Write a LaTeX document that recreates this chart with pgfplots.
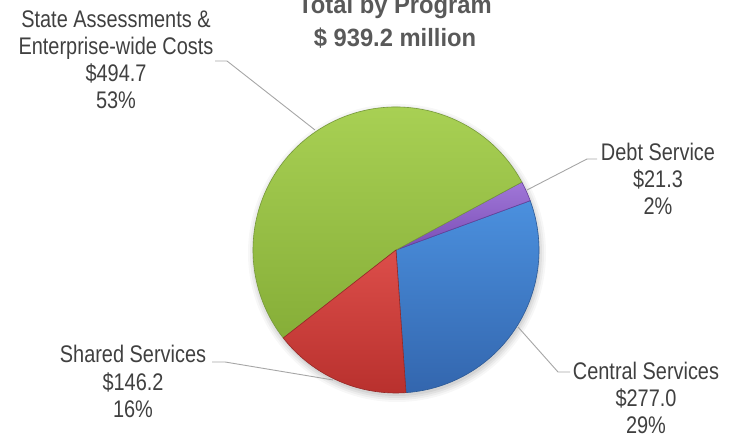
\documentclass[border=0pt]{standalone}
\usepackage{pgfplots}
\pgfplotsset{compat=1.18}
\usepackage{pgfplotstable}
\usepackage{fontspec}
\setmainfont{Liberation Sans}[FakeStretch=0.83]
\newfontfamily\titlefont{Liberation Sans}[FakeStretch=0.95]
\definecolor{txt}{HTML}{404040}
\definecolor{ttl}{HTML}{595959}
\definecolor{lead}{HTML}{A6A6A6}
\definecolor{gTop}{HTML}{ABD356}\definecolor{gBot}{HTML}{86AE38}\definecolor{gEdge}{HTML}{76993A}
\definecolor{bTop}{HTML}{4B90DE}\definecolor{bBot}{HTML}{3366AE}\definecolor{bEdge}{HTML}{2D5A96}
\definecolor{rTop}{HTML}{DC4E4A}\definecolor{rBot}{HTML}{B8302D}\definecolor{rEdge}{HTML}{962826}
\definecolor{pTop}{HTML}{A077D8}\definecolor{pBot}{HTML}{7A4DB5}\definecolor{pEdge}{HTML}{65409A}

\pgfplotstableread{
name value
Central 277.0
Debt 21.3
State 494.7
Shared 146.2
}\piedata

\begin{document}
\begin{tikzpicture}
\pgfplotstablegetelem{0}{value}\of\piedata \let\vA\pgfplotsretval
\pgfplotstablegetelem{1}{value}\of\piedata \let\vB\pgfplotsretval
\pgfplotstablegetelem{2}{value}\of\piedata \let\vC\pgfplotsretval
\pgfplotstablegetelem{3}{value}\of\piedata \let\vD\pgfplotsretval
\pgfmathsetmacro\tot{\vA+\vB+\vC+\vD}
\pgfmathsetmacro\aO{-86}
\pgfmathsetmacro\aA{\aO+360*(\vA/\tot)}
\pgfmathsetmacro\aB{\aA+360*(\vB/\tot)}
\pgfmathsetmacro\aC{\aB+360*(\vC/\tot)}
\pgfmathsetmacro\aD{\aC+360*(\vD/\tot)}
\def\R{143pt}
\begin{axis}[
  width=734pt, height=438pt, scale only axis,
  xmin=0, xmax=734, ymin=0, ymax=438,
  hide axis, clip=false,
]
% soft shadow
\fill[black, opacity=0.03] (axis cs:397,185) circle[radius=149pt];
\fill[black, opacity=0.04] (axis cs:397,185) circle[radius=147pt];
\fill[black, opacity=0.05] (axis cs:397,185) circle[radius=145pt];
\fill[black, opacity=0.06] (axis cs:397,185) circle[radius=143pt];
% slices
\path[draw=bEdge, line width=0.6pt, top color=bTop, bottom color=bBot]
  (axis cs:396,188) -- ++(\aO:\R) arc[start angle=\aO, end angle=\aA, radius=\R] -- cycle;
\path[draw=pEdge, line width=0.6pt, top color=pTop, bottom color=pBot]
  (axis cs:396,188) -- ++(\aA:\R) arc[start angle=\aA, end angle=\aB, radius=\R] -- cycle;
\path[draw=gEdge, line width=0.6pt, top color=gTop, bottom color=gBot]
  (axis cs:396,188) -- ++(\aB:\R) arc[start angle=\aB, end angle=\aC, radius=\R] -- cycle;
\path[draw=rEdge, line width=0.6pt, top color=rTop, bottom color=rBot]
  (axis cs:396,188) -- ++(\aC:\R) arc[start angle=\aC, end angle=\aD, radius=\R] -- cycle;
% leader lines
\draw[lead, line width=0.9pt] (axis cs:215,377) -- (axis cs:227,377) -- (axis cs:315,308);
\draw[lead, line width=0.9pt] (axis cs:597,279) -- (axis cs:587,279) -- (axis cs:527,248);
\draw[lead, line width=0.9pt] (axis cs:570,66) -- (axis cs:558,66) -- (axis cs:518,111);
\draw[lead, line width=0.9pt] (axis cs:212,76) -- (axis cs:225,76) -- (axis cs:333,58);
% labels
\tikzset{lab/.style={anchor=base, inner sep=0pt, text=txt, font=\fontsize{24}{28}\selectfont}}
\node[lab] at (axis cs:116,410) {State Assessments \&};
\node[lab] at (axis cs:116,383) {Enterprise-wide Costs};
\node[lab] at (axis cs:116,356) {\$494.7};
\node[lab] at (axis cs:116,329) {53\%};
\node[lab] at (axis cs:658,277) {Debt Service};
\node[lab] at (axis cs:658,250) {\$21.3};
\node[lab] at (axis cs:658,223) {2\%};
\node[lab] at (axis cs:646,58) {Central Services};
\node[lab] at (axis cs:646,31) {\$277.0};
\node[lab] at (axis cs:646,4) {29\%};
\node[lab] at (axis cs:133,75) {Shared Services};
\node[lab] at (axis cs:133,47) {\$146.2};
\node[lab] at (axis cs:133,20) {16\%};
% title
\tikzset{ttlst/.style={anchor=base, inner sep=0pt, text=ttl, font=\titlefont\bfseries\fontsize{25}{30}\selectfont}}
\node[ttlst] at (axis cs:395,424) {Total by Program};
\node[ttlst] at (axis cs:395,391) {\$ 939.2 million};
\end{axis}
\pgfresetboundingbox
\path[use as bounding box] (0,0) rectangle (734pt,438pt);
\end{tikzpicture}
\end{document}
